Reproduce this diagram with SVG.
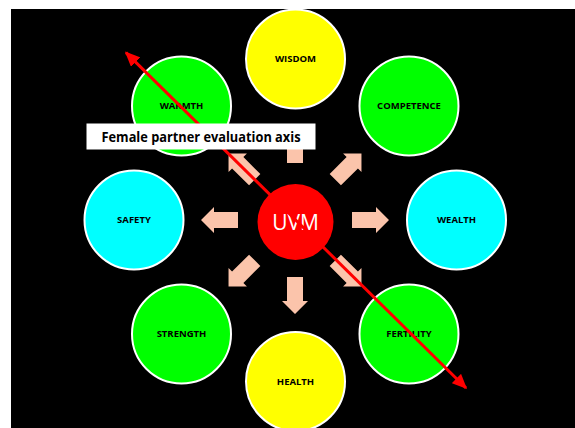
<svg xmlns="http://www.w3.org/2000/svg" width="575" height="428" viewBox="0 0 575 428">
  <style>
    .trait { stroke: #ffffff; stroke-width: 2; }
    .green { fill: #00ff00; }
    .yellow { fill: #ffff00; }
    .cyan { fill: #00ffff; }
    .tlabel { font-family: "Open Sans", "Liberation Sans", sans-serif; font-weight: bold; font-size: 9.5px; fill: #000000; text-anchor: middle; }
    .ray { fill: #fbc4ab; }
    .axis { stroke: #ff0000; stroke-width: 3; fill: none; }
  </style>
  <defs>
    <!-- block arrow pointing along +x, measured from the hub centre -->
    <polygon id="ray" points="57,-8 81,-8 81,-13 94,0 81,13 81,8 57,8"/>
    <marker id="axisHead" viewBox="0 0 10 10" refX="9" refY="5" markerWidth="5" markerHeight="4.4" orient="auto-start-reverse" markerUnits="strokeWidth" preserveAspectRatio="none">
      <path d="M0,0 L10,5 L0,10 z" fill="#ff0000"/>
    </marker>
  </defs>

  <rect x="0" y="0" width="575" height="428" fill="#ffffff"/>
  <rect x="11" y="9" width="564" height="419" fill="#000000"/>

  <!-- trait circles -->
  <g id="wisdom">
    <circle class="trait yellow" cx="295.5" cy="59" r="49.5"/>
    <text class="tlabel" x="295.5" y="62.3">WISDOM</text>
  </g>
  <g id="competence">
    <circle class="trait green" cx="409" cy="106" r="49.5"/>
    <text class="tlabel" x="409" y="109.3">COMPETENCE</text>
  </g>
  <g id="wealth">
    <circle class="trait cyan" cx="456.5" cy="220" r="49.5"/>
    <text class="tlabel" x="456.5" y="223.3">WEALTH</text>
  </g>
  <g id="fertility">
    <circle class="trait green" cx="409" cy="334" r="49.5"/>
    <text class="tlabel" x="409" y="337.3">FERTILITY</text>
  </g>
  <g id="health">
    <circle class="trait yellow" cx="295.5" cy="381.5" r="49.5"/>
    <text class="tlabel" x="295.5" y="384.8">HEALTH</text>
  </g>
  <g id="strength">
    <circle class="trait green" cx="181.5" cy="334" r="49.5"/>
    <text class="tlabel" x="181.5" y="337.3">STRENGTH</text>
  </g>
  <g id="safety">
    <circle class="trait cyan" cx="134" cy="220" r="49.5"/>
    <text class="tlabel" x="134" y="223.3">SAFETY</text>
  </g>
  <g id="warmth">
    <circle class="trait green" cx="181.5" cy="106" r="49.5"/>
    <text class="tlabel" x="181.5" y="109.3">WARMTH</text>
  </g>

  <!-- radiating arrows from the hub -->
  <g id="connectors" class="ray" transform="translate(295,220)">
    <use href="#ray" transform="rotate(0)"/>
    <use href="#ray" transform="rotate(45)"/>
    <use href="#ray" transform="rotate(90)"/>
    <use href="#ray" transform="rotate(135)"/>
    <use href="#ray" transform="rotate(180)"/>
    <use href="#ray" transform="rotate(225)"/>
    <use href="#ray" transform="rotate(270)"/>
    <use href="#ray" transform="rotate(315)"/>
  </g>

  <!-- hub -->
  <g id="hub">
    <circle cx="295.5" cy="222" r="38" fill="#ff0000"/>
    <text x="295.5" y="229.5" font-family="'Open Sans', 'Liberation Sans', sans-serif" font-size="21" fill="#ffffff" text-anchor="middle">UVM</text>
  </g>

  <!-- evaluation axis -->
  <g id="axis">
    <line class="axis" x1="126" y1="52.6" x2="466" y2="388" marker-start="url(#axisHead)" marker-end="url(#axisHead)"/>
  </g>

  <g id="axis-label">
    <rect x="86.5" y="123.5" width="229" height="26" fill="#ffffff"/>
    <text x="201" y="141.5" font-family="'Open Sans', 'Liberation Sans', sans-serif" font-weight="bold" font-size="13.5" fill="#000000" text-anchor="middle" textLength="199" lengthAdjust="spacingAndGlyphs">Female partner evaluation axis</text>
  </g>
</svg>
